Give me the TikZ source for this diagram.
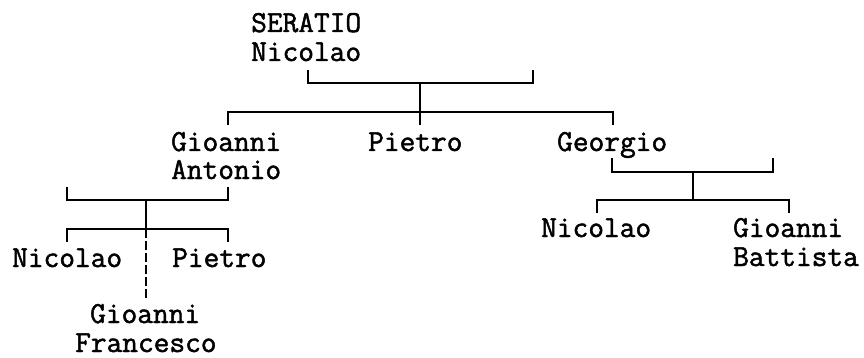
\documentclass[tikz,border=0pt]{standalone}
\usepackage{fontspec}
\newfontfamily\treefont{Latin Modern Mono}[FakeBold=1.6]
\begin{document}
\begin{tikzpicture}[x=1pt,y=-1pt,
    person/.style={anchor=base west,inner sep=0pt,font=\treefont\bfseries\fontsize{30.5}{28}\selectfont},
    link/.style={line width=1.3pt}]
    \useasboundingbox (0,0) rectangle (864,358);
    % Names
    \node[person] (serA) at (251,32) {SERATIO};
    \node[person] (serB) at (251,61) {Nicolao};
    \node[person] (gioA) at (171,151) {Gioanni};
    \node[person] (antA) at (171,179) {Antonio};
    \node[person] (pie) at (368,151) {Pietro};
    \node[person] (geo) at (557,151) {Georgio};
    \node[person] (nicL) at (12,267) {Nicolao};
    \node[person] (pieL) at (172,267) {Pietro};
    \node[person] (gioF) at (90,323) {Gioanni};
    \node[person] (fra) at (75,352) {Francesco};
    \node[person] (nicR) at (541,237) {Nicolao};
    \node[person] (gioB) at (733,237) {Gioanni};
    \node[person] (bat) at (733,266) {Battista};
    % Top bracket
    \coordinate (s1) at (308,70);
    \coordinate (s2) at (533,70);
    \coordinate (sm) at (420,83);
    \coordinate (sd) at (420,125);
    \draw[link] (s1) |- (sm) -| (s2);
    \draw[link] (sm) -- (sd);
    \coordinate (c1) at (228,125);
    \coordinate (cm) at (420,112);
    \coordinate (c2) at (613,125);
    \draw[link] (c1) |- (cm) -| (c2);
    % Left bracket
    \coordinate (a1) at (67,187);
    \coordinate (a2) at (228,187);
    \coordinate (am) at (146,200);
    \coordinate (ak) at (146,229);
    \coordinate (ad) at (146,300);
    \draw[link] (a1) |- (am) -| (a2);
    \draw[link] (am) -- (ak);
    \draw[link,dash pattern=on 9pt off 3pt] (ak) -- (ad);
    \coordinate (b1) at (67,242);
    \coordinate (b2) at (228,242);
    \draw[link] (b1) |- (ak) -| (b2);
    % Right bracket
    \coordinate (r1) at (612,158);
    \coordinate (r2) at (773,158);
    \coordinate (rm) at (693,172);
    \coordinate (rk) at (693,200);
    \draw[link] (r1) |- (rm) -| (r2);
    \draw[link] (rm) -- (rk);
    \coordinate (q1) at (597,213);
    \coordinate (q2) at (789,213);
    \draw[link] (q1) |- (rk) -| (q2);
\end{tikzpicture}
\end{document}
